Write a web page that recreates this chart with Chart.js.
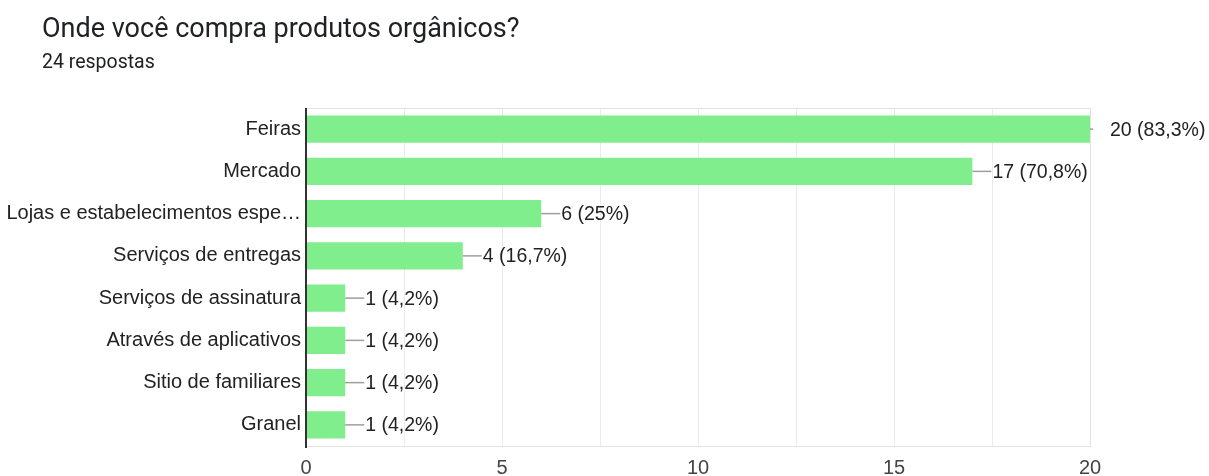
<!DOCTYPE html>
<html>
<head>
<meta charset="utf-8">
<script src="https://cdn.jsdelivr.net/npm/chart.js@4"></script>
<style>
  html, body { margin: 0; padding: 0; background: #fff; }
  #wrap { position: relative; width: 1209px; height: 476px; overflow: hidden; }
  #title { position: absolute; left: 42px; top: 12px; font: 400 27px Roboto, sans-serif; line-height: 32px; color: #202124; white-space: nowrap; }
  #sub { position: absolute; left: 42px; top: 50px; font: 400 19.5px Roboto, sans-serif; line-height: 24px; color: #202124; white-space: nowrap; }
  canvas { position: absolute; left: 0; top: 0; }
</style>
</head>
<body>
<div id="wrap">
  <canvas id="chart" width="1209" height="476"></canvas>
  <div id="title">Onde você compra produtos orgânicos?</div>
  <div id="sub">24 respostas</div>
</div>
<script>
// =============== Daten ===============
const categories = [
  'Feiras',
  'Mercado',
  'Lojas e estabelecimentos espe…',
  'Serviços de entregas',
  'Serviços de assinatura',
  'Através de aplicativos',
  'Sitio de familiares',
  'Granel',
];
const counts = [20, 17, 6, 4, 1, 1, 1, 1];
const totalResponses = 24;
const xTicks = [0, 5, 10, 15, 20];

const BAR_COLOR = '#81ee8e';
const FONT = '"Liberation Sans", Arial, sans-serif';

function pctLabel(v) {
  let p = (v / totalResponses * 100).toFixed(1);
  if (p.endsWith('.0')) p = p.slice(0, -2);
  return `${v} (${p.replace('.', ',')}%)`;
}

// Rahmen um den Plotbereich
const boxPlugin = {
  id: 'box',
  beforeDatasetsDraw(chart) {
    const { ctx, chartArea: a } = chart;
    ctx.save();
    ctx.strokeStyle = '#e3e3e3';
    ctx.lineWidth = 1;
    ctx.strokeRect(a.left + 0.5, a.top + 0.5, a.right - a.left, a.bottom - a.top);
    ctx.restore();
  },
  afterDatasetsDraw(chart) {
    const { ctx, chartArea: a } = chart;
    ctx.save();
    ctx.strokeStyle = '#333';
    ctx.lineWidth = 2;
    ctx.beginPath();
    ctx.moveTo(a.left, a.top);
    ctx.lineTo(a.left, a.bottom + 2);
    ctx.stroke();
    ctx.restore();
  },
};

// Werte-Labels mit Verbindungslinie
const labelPlugin = {
  id: 'valueLabels',
  afterDatasetsDraw(chart) {
    const { ctx, chartArea: a } = chart;
    const meta = chart.getDatasetMeta(0);
    ctx.save();
    ctx.font = `19.5px ${FONT}`;
    ctx.fillStyle = '#222';
    ctx.textBaseline = 'middle';
    meta.data.forEach((bar, i) => {
      const x = bar.x;
      const y = bar.y;
      const lineEnd = Math.min(x + 19, a.right + 3);
      ctx.strokeStyle = '#9e9e9e';
      ctx.lineWidth = 1.5;
      ctx.beginPath();
      ctx.moveTo(x, y);
      ctx.lineTo(lineEnd, y);
      ctx.stroke();
      ctx.fillText(pctLabel(counts[i]), x + 20, y + 1);
    });
    ctx.restore();
  },
};

new Chart(document.getElementById('chart'), {
  type: 'bar',
  data: {
    labels: categories,
    datasets: [{
      data: counts,
      backgroundColor: BAR_COLOR,
      borderWidth: 0,
      categoryPercentage: 1,
      barPercentage: 0.64,
    }],
  },
  options: {
    indexAxis: 'y',
    responsive: false,
    animation: false,
    layout: { padding: { top: 108, right: 119, left: 0, bottom: 0 } },
    plugins: {
      legend: { display: false },
      tooltip: { enabled: false },
      title: { display: false },
    },
    scales: {
      x: {
        min: 0,
        max: 20,
        afterFit(scale) { scale.height = 30; },
        afterBuildTicks(scale) {
          const t = [];
          for (let v = 0; v <= 20; v += 2.5) t.push({ value: v });
          scale.ticks = t;
        },
        ticks: {
          autoSkip: false,
          maxRotation: 0,
          padding: 10,
          color: '#444',
          font: { family: FONT, size: 20 },
          callback: (v) => (xTicks.includes(v) ? String(v) : ''),
        },
        grid: { color: '#ebebeb', drawTicks: false },
        border: { display: false },
      },
      y: {
        afterFit(scale) { scale.width = 306; },
        ticks: {
          padding: 5,
          color: '#222',
          font: { family: FONT, size: 20 },
        },
        grid: { display: false, drawTicks: false },
        border: { display: false },
      },
    },
  },
  plugins: [boxPlugin, labelPlugin],
});
</script>
</body>
</html>
